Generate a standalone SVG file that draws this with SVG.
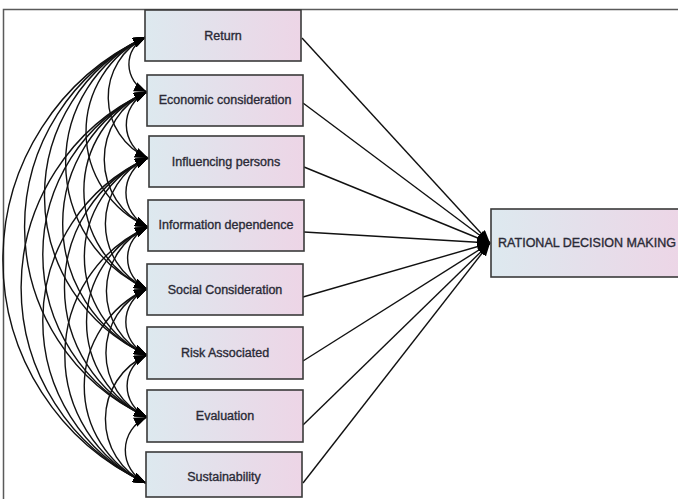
<svg xmlns="http://www.w3.org/2000/svg" width="678" height="499" viewBox="0 0 678 499">
<style>
.box{fill:url(#g);stroke:#3a3a3a;stroke-width:1.6}
.lbl{font-family:"Liberation Sans",Arial,sans-serif;font-size:12.5px;fill:#2a2a36;stroke:#2a2a36;stroke-width:0.35;text-anchor:middle}
.cov{fill:none;stroke:#111;stroke-width:1.4;marker-start:url(#ah);marker-end:url(#ah)}
.reg{fill:none;stroke:#111;stroke-width:1.4;marker-end:url(#ah)}
.frame{stroke:#5a5a5a;stroke-width:1.5;fill:none}
</style>
<defs>
<linearGradient id="g" x1="0" y1="0" x2="1" y2="0">
<stop offset="0" stop-color="#dde9ef"/>
<stop offset="1" stop-color="#edd5e6"/>
</linearGradient>
<marker id="ah" markerUnits="userSpaceOnUse" markerWidth="14" markerHeight="10" refX="13" refY="5" orient="auto-start-reverse">
<path d="M0,0 L13,5 L0,10 z" fill="#000"/>
</marker>
</defs>
<rect width="678" height="499" fill="#fff"/>
<path class="frame" d="M3.5,499 V9.5 H678"/>
<g id="connectors">
<path class="cov" d="M146,37 A30.3,30.3 0 0 0 147,92"/>
<path class="cov" d="M146,37 A66.6,66.6 0 0 0 148,158"/>
<path class="cov" d="M146,37 A104.5,104.5 0 0 0 148,227"/>
<path class="cov" d="M146,37 A138.6,138.6 0 0 0 147,289"/>
<path class="cov" d="M146,37 A174.9,174.9 0 0 0 147,355"/>
<path class="cov" d="M146,37 A209,209 0 0 0 147,417"/>
<path class="cov" d="M146,37 A245.3,245.3 0 0 0 146,483"/>
<path class="cov" d="M147,92 A36.3,36.3 0 0 0 148,158"/>
<path class="cov" d="M147,92 A74.3,74.3 0 0 0 148,227"/>
<path class="cov" d="M147,92 A108.4,108.4 0 0 0 147,289"/>
<path class="cov" d="M147,92 A144.7,144.7 0 0 0 147,355"/>
<path class="cov" d="M147,92 A178.8,178.8 0 0 0 147,417"/>
<path class="cov" d="M147,92 A215.1,215.1 0 0 0 146,483"/>
<path class="cov" d="M148,158 A38,38 0 0 0 148,227"/>
<path class="cov" d="M148,158 A72,72 0 0 0 147,289"/>
<path class="cov" d="M148,158 A108.4,108.4 0 0 0 147,355"/>
<path class="cov" d="M148,158 A142.5,142.5 0 0 0 147,417"/>
<path class="cov" d="M148,158 A178.8,178.8 0 0 0 146,483"/>
<path class="cov" d="M148,227 A34.1,34.1 0 0 0 147,289"/>
<path class="cov" d="M148,227 A70.4,70.4 0 0 0 147,355"/>
<path class="cov" d="M148,227 A104.5,104.5 0 0 0 147,417"/>
<path class="cov" d="M148,227 A140.8,140.8 0 0 0 146,483"/>
<path class="cov" d="M147,289 A36.3,36.3 0 0 0 147,355"/>
<path class="cov" d="M147,289 A70.4,70.4 0 0 0 147,417"/>
<path class="cov" d="M147,289 A106.7,106.7 0 0 0 146,483"/>
<path class="cov" d="M147,355 A34.1,34.1 0 0 0 147,417"/>
<path class="cov" d="M147,355 A70.4,70.4 0 0 0 146,483"/>
<path class="cov" d="M147,417 A36.3,36.3 0 0 0 146,483"/>
<path class="reg" d="M302,38 L490,243"/>
<path class="reg" d="M303,103 L490,243"/>
<path class="reg" d="M304,167 L490,243"/>
<path class="reg" d="M304,232 L490,243"/>
<path class="reg" d="M303,297 L490,243"/>
<path class="reg" d="M303,361 L490,243"/>
<path class="reg" d="M303,425 L490,243"/>
<path class="reg" d="M303,483 L490,243"/>
</g>
<g id="n-return"><rect class="box" x="145" y="10" width="156" height="51"/><text class="lbl" x="223" y="40">Return</text></g>
<g id="n-economic"><rect class="box" x="147" y="75" width="156" height="51"/><text class="lbl" x="225" y="104">Economic consideration</text></g>
<g id="n-influencing"><rect class="box" x="149" y="136" width="155" height="51"/><text class="lbl" x="226" y="166">Influencing persons</text></g>
<g id="n-information"><rect class="box" x="148" y="200" width="156" height="51"/><text class="lbl" x="226" y="229">Information dependence</text></g>
<g id="n-social"><rect class="box" x="147" y="264" width="156" height="51"/><text class="lbl" x="225" y="294">Social Consideration</text></g>
<g id="n-risk"><rect class="box" x="147" y="327" width="156" height="52"/><text class="lbl" x="225" y="357">Risk Associated</text></g>
<g id="n-evaluation"><rect class="box" x="147" y="390" width="156" height="52"/><text class="lbl" x="225" y="420">Evaluation</text></g>
<g id="n-sustainability"><rect class="box" x="146" y="452" width="156" height="45"/><text class="lbl" x="224" y="481">Sustainability</text></g>
<g id="n-rational"><rect class="box" x="491" y="209" width="195" height="68"/><text class="lbl" x="587" y="247">RATIONAL DECISION MAKING</text></g>
</svg>
